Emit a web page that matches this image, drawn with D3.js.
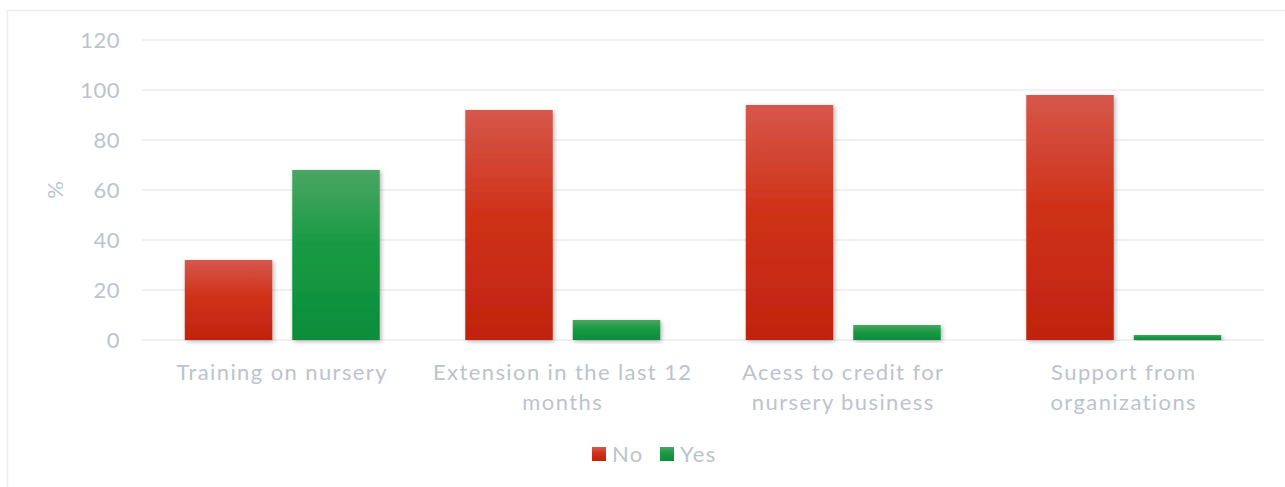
<!DOCTYPE html>
<html>
<head>
<meta charset="utf-8">
<script src="https://cdn.jsdelivr.net/npm/d3@7"></script>
<style>
  body { margin: 0; background: #fff; }
  text { font-family: Lato, "Open Sans", sans-serif; fill: #bcc3cf; }
</style>
</head>
<body>
<div id="chart"></div>
<script>
// Data
const categories = [
  ["Training on nursery"],
  ["Extension in the last 12", "months"],
  ["Acess to credit for", "nursery business"],
  ["Support from", "organizations"]
];
const seriesNames = ["No", "Yes"];
const noValues = [32, 92, 94, 98];
const yesValues = [68, 8, 6, 2];
const yTicks = [0, 20, 40, 60, 80, 100, 120];

const width = 1285, height = 487;
const margin = { top: 40, right: 21, bottom: 147, left: 142 };
const innerW = width - margin.left - margin.right;
const innerH = height - margin.top - margin.bottom;

const svg = d3.select("#chart").append("svg")
    .attr("width", width)
    .attr("height", height);

// gradients + shadow
const defs = svg.append("defs");
const gradStops = {
  No: ["#d6574b", "#cf3219", "#c0230f"],
  Yes: ["#4ba563", "#179a43", "#0c8d3a"]
};
seriesNames.forEach(s => {
  let g = defs.append("linearGradient")
      .attr("id", "grad-" + s)
      .attr("x1", 0).attr("y1", 0).attr("x2", 0).attr("y2", 1);
  g.append("stop").attr("offset", "0%").attr("stop-color", gradStops[s][0]);
  g.append("stop").attr("offset", "45%").attr("stop-color", gradStops[s][1]);
  g.append("stop").attr("offset", "100%").attr("stop-color", gradStops[s][2]);
});
defs.append("filter")
    .attr("id", "shadow")
    .attr("x", "-20%").attr("y", "-20%").attr("width", "140%").attr("height", "140%")
  .append("feDropShadow")
    .attr("dx", 1.5).attr("dy", 1.5)
    .attr("stdDeviation", 2)
    .attr("flood-color", "#000")
    .attr("flood-opacity", 0.3);

// outer frame
svg.append("rect")
    .attr("x", 7.5).attr("y", 10.5)
    .attr("width", 1290).attr("height", 500)
    .attr("fill", "none")
    .attr("stroke", "#ececec")
    .attr("stroke-width", 1.5);

const g = svg.append("g")
    .attr("transform", "translate(" + margin.left + "," + margin.top + ")");

// scales
const x0 = d3.scaleBand()
    .domain(d3.range(categories.length))
    .range([0, innerW])
    .padding(0);

const x1 = d3.scaleBand()
    .domain(seriesNames)
    .range([0, x0.bandwidth()])
    .paddingInner(0.186)
    .paddingOuter(0.398);

const y = d3.scaleLinear()
    .domain([0, 120])
    .range([innerH, 0]);

// gridlines
g.append("g").selectAll("line")
    .data(yTicks)
  .enter().append("line")
    .attr("x1", 0)
    .attr("x2", innerW)
    .attr("y1", d => y(d))
    .attr("y2", d => y(d))
    .attr("stroke", "#ececec")
    .attr("stroke-width", 1.5);

// y axis
const yAxis = d3.axisLeft(y).tickValues(yTicks).tickSize(0).tickPadding(22);
g.append("g")
    .call(yAxis)
    .call(a => a.select(".domain").remove())
    .selectAll("text")
    .attr("font-size", 22)
    .attr("fill", "#bcc3cf")
    .attr("font-family", "Lato, sans-serif")
    .attr("letter-spacing", 0.5);

// y axis title
svg.append("text")
    .attr("transform", "translate(63,190) rotate(-90)")
    .attr("text-anchor", "middle")
    .attr("font-size", 22)
    .text("%");

// bars
const rows = categories.map((c, i) => ({ i, vals: [
  { s: "No", v: noValues[i] },
  { s: "Yes", v: yesValues[i] }
]}));

const group = g.selectAll(".group")
    .data(rows)
  .enter().append("g")
    .attr("class", "group")
    .attr("transform", d => "translate(" + x0(d.i) + ",0)");

group.selectAll("rect")
    .data(d => d.vals)
  .enter().append("rect")
    .attr("x", d => x1(d.s))
    .attr("y", d => y(d.v))
    .attr("width", x1.bandwidth())
    .attr("height", d => y(0) - y(d.v))
    .attr("fill", d => "url(#grad-" + d.s + ")")
    .attr("filter", "url(#shadow)");

// category labels
const labels = g.selectAll(".cat")
    .data(categories)
  .enter().append("text")
    .attr("class", "cat")
    .attr("text-anchor", "middle")
    .attr("font-size", 22)
    .attr("letter-spacing", 1.4)
    .attr("transform", (d, i) => "translate(" + (x0(i) + x0.bandwidth() / 2) + "," + (innerH + 40) + ")");

labels.selectAll("tspan")
    .data(d => d)
  .enter().append("tspan")
    .attr("x", 0)
    .attr("dy", (d, i) => i === 0 ? 0 : 30)
    .text(d => d);

// legend
const legend = svg.append("g")
    .attr("transform", "translate(592,447)");
const legendX = [0, 68];
seriesNames.forEach((s, i) => {
  let item = legend.append("g").attr("transform", "translate(" + legendX[i] + ",0)");
  item.append("rect")
      .attr("width", 14).attr("height", 14)
      .attr("fill", "url(#grad-" + s + ")");
  item.append("text")
      .attr("x", 20).attr("y", 15)
      .attr("font-size", 22)
      .attr("letter-spacing", 1.4)
      .text(s);
});
</script>
</body>
</html>
